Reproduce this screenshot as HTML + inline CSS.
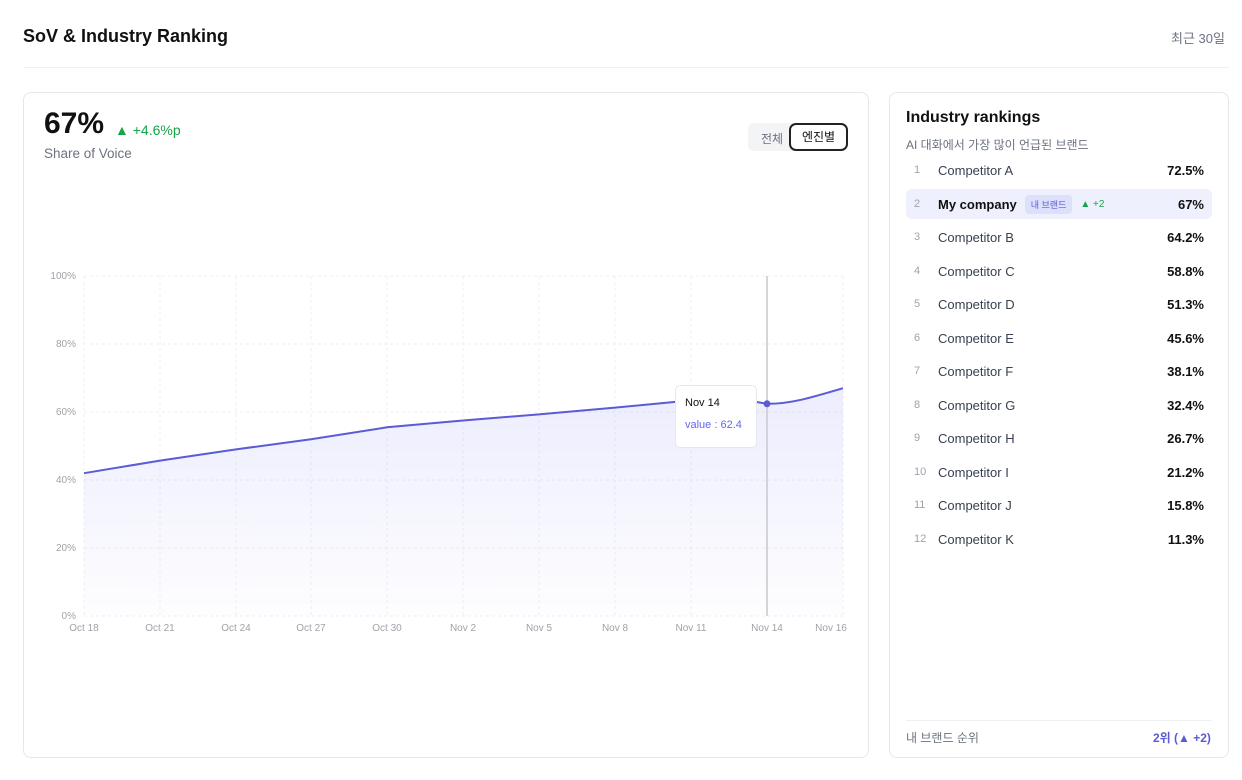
<!DOCTYPE html>
<html><head><meta charset="utf-8"><style>
*{box-sizing:border-box;margin:0;padding:0}
body{width:1242px;height:780px;background:#fff;font-family:"Liberation Sans","Noto Sans CJK KR",sans-serif;color:#111;position:relative;overflow:hidden}
.a{position:absolute;white-space:nowrap}
.card{position:absolute;border:1px solid #e5e7eb;border-radius:8px;background:#fff}
.row{position:absolute;left:906px;width:306px;height:30px;font-size:13px;display:flex;align-items:center}
.row .n{width:32px;padding-left:8px;color:#9ca3af;font-size:11px;line-height:30px}
.row .nm{color:#374151}
.row .v{margin-left:auto;padding-right:8px;font-weight:bold;color:#111}
</style></head><body>
<div class="a" style="left:23px;top:26px;font-size:18px;font-weight:bold;color:#111">SoV &amp; Industry Ranking</div>
<div class="a" style="left:1171px;top:28px;font-size:13px;color:#6b7280">최근 30일</div>
<div class="a" style="left:23px;top:67px;width:1206px;height:1px;background:#eef0f2"></div>

<div class="card" style="left:23px;top:92px;width:846px;height:666px"></div>
<div class="a" style="left:44px;top:107px;font-size:30px;font-weight:bold;color:#111">67%</div>
<div class="a" style="left:115px;top:122px;font-size:14px;color:#16a34a">▲ +4.6%p</div>
<div class="a" style="left:44px;top:146px;font-size:13.5px;color:#6b7280">Share of Voice</div>
<div class="a" style="left:748px;top:123px;width:100px;height:28px;background:#f3f4f6;border-radius:6px"></div>
<div class="a" style="left:761px;top:130px;font-size:12px;color:#6b7280">전체</div>
<div class="a" style="left:789px;top:123px;width:59px;height:28px;border:2px solid #222;border-radius:7px;background:#fff;font-size:12px;text-align:center;line-height:24px">엔진별</div>

<svg class="a" style="left:0;top:0" width="870" height="660">
<defs><linearGradient id="g" x1="0" y1="0" x2="0" y2="1"><stop offset="0" stop-color="#6366f1" stop-opacity="0.12"/><stop offset="1" stop-color="#6366f1" stop-opacity="0.01"/></linearGradient></defs>
<g stroke="#efeff3" stroke-dasharray="3 3" stroke-width="1">
<line x1="84" x2="843" y1="276" y2="276"/><line x1="84" x2="843" y1="344" y2="344"/><line x1="84" x2="843" y1="412" y2="412"/><line x1="84" x2="843" y1="480" y2="480"/><line x1="84" x2="843" y1="548" y2="548"/><line x1="84" x2="843" y1="616" y2="616"/>
<line x1="84" x2="84" y1="276" y2="616"/><line x1="160" x2="160" y1="276" y2="616"/><line x1="236" x2="236" y1="276" y2="616"/><line x1="311" x2="311" y1="276" y2="616"/><line x1="387" x2="387" y1="276" y2="616"/><line x1="463" x2="463" y1="276" y2="616"/><line x1="539" x2="539" y1="276" y2="616"/><line x1="615" x2="615" y1="276" y2="616"/><line x1="691" x2="691" y1="276" y2="616"/><line x1="843" x2="843" y1="276" y2="616"/>
</g>
<path d="M84 473.2 L160 460.6 L236 449.4 L311 439.2 L387 427.3 L463 420.5 L539 414.4 L615 407.6 L691 400.4 L740 399 L767 403.8 C790 404 810 398 843 388.2 L843 616 L84 616Z" fill="url(#g)"/>
<path d="M84 473.2 L160 460.6 L236 449.4 L311 439.2 L387 427.3 L463 420.5 L539 414.4 L615 407.6 L691 400.4 L740 399 L767 403.8 C790 404 810 398 843 388.2" fill="none" stroke="#5b5bd6" stroke-width="2"/>
<line x1="767" x2="767" y1="276" y2="616" stroke="#c8c8cc" stroke-width="1.5"/>
<circle cx="767" cy="403.8" r="3.5" fill="#5b5bd6"/>
<g font-size="10" fill="#a1a1aa" font-family="Liberation Sans,sans-serif">
<text x="76" y="279" text-anchor="end">100%</text><text x="76" y="347" text-anchor="end">80%</text><text x="76" y="415" text-anchor="end">60%</text><text x="76" y="483" text-anchor="end">40%</text><text x="76" y="551" text-anchor="end">20%</text><text x="76" y="619" text-anchor="end">0%</text>
<g text-anchor="middle"><text x="84" y="631">Oct 18</text><text x="160" y="631">Oct 21</text><text x="236" y="631">Oct 24</text><text x="311" y="631">Oct 27</text><text x="387" y="631">Oct 30</text><text x="463" y="631">Nov 2</text><text x="539" y="631">Nov 5</text><text x="615" y="631">Nov 8</text><text x="691" y="631">Nov 11</text><text x="767" y="631">Nov 14</text><text x="831" y="631">Nov 16</text></g>
</g>
</svg>
<div class="a" style="left:675px;top:385px;width:82px;height:63px;background:#fff;border:1px solid #e5e7eb;border-radius:5px"></div>
<div class="a" style="left:685px;top:397px;font-size:11px;color:#111">Nov 14</div>
<div class="a" style="left:685px;top:419px;font-size:11px;color:#6366f1">value : 62.4</div>

<div class="card" style="left:889px;top:92px;width:340px;height:666px"></div>
<div class="a" style="left:906px;top:109px;font-size:16px;font-weight:bold;color:#111">Industry rankings</div>
<div class="a" style="left:906px;top:136px;font-size:12px;color:#6b7280">AI 대화에서 가장 많이 언급된 브랜드</div>
<div class="a" style="left:906px;top:189px;width:306px;height:30px;background:#eef0fe;border-radius:6px"></div>
<div class="row" style="top:155px"><span class="n">1</span><span class="nm">Competitor A</span><span class="v">72.5%</span></div>
<div class="row" style="top:189px"><span class="n">2</span><span class="nm" style="font-weight:bold;color:#111">My company</span><span style="margin-left:8px;background:#dde0fb;color:#5b5bd6;font-size:9px;padding:3px 6px;border-radius:4px">내 브랜드</span><span style="margin-left:8px;color:#16a34a;font-size:10px">▲ +2</span><span class="v">67%</span></div>
<div class="row" style="top:222px"><span class="n">3</span><span class="nm">Competitor B</span><span class="v">64.2%</span></div>
<div class="row" style="top:256px"><span class="n">4</span><span class="nm">Competitor C</span><span class="v">58.8%</span></div>
<div class="row" style="top:289px"><span class="n">5</span><span class="nm">Competitor D</span><span class="v">51.3%</span></div>
<div class="row" style="top:323px"><span class="n">6</span><span class="nm">Competitor E</span><span class="v">45.6%</span></div>
<div class="row" style="top:356px"><span class="n">7</span><span class="nm">Competitor F</span><span class="v">38.1%</span></div>
<div class="row" style="top:390px"><span class="n">8</span><span class="nm">Competitor G</span><span class="v">32.4%</span></div>
<div class="row" style="top:423px"><span class="n">9</span><span class="nm">Competitor H</span><span class="v">26.7%</span></div>
<div class="row" style="top:457px"><span class="n">10</span><span class="nm">Competitor I</span><span class="v">21.2%</span></div>
<div class="row" style="top:490px"><span class="n">11</span><span class="nm">Competitor J</span><span class="v">15.8%</span></div>
<div class="row" style="top:524px"><span class="n">12</span><span class="nm">Competitor K</span><span class="v">11.3%</span></div>
<div class="a" style="left:906px;top:720px;width:306px;height:1px;background:#eef0f2"></div>
<div class="a" style="left:906px;top:729px;font-size:12px;color:#6b7280">내 브랜드 순위</div>
<div class="a" style="left:1153px;top:729px;font-size:12px;font-weight:bold;color:#5b5bd6">2위 (▲ +2)</div>
</body></html>
